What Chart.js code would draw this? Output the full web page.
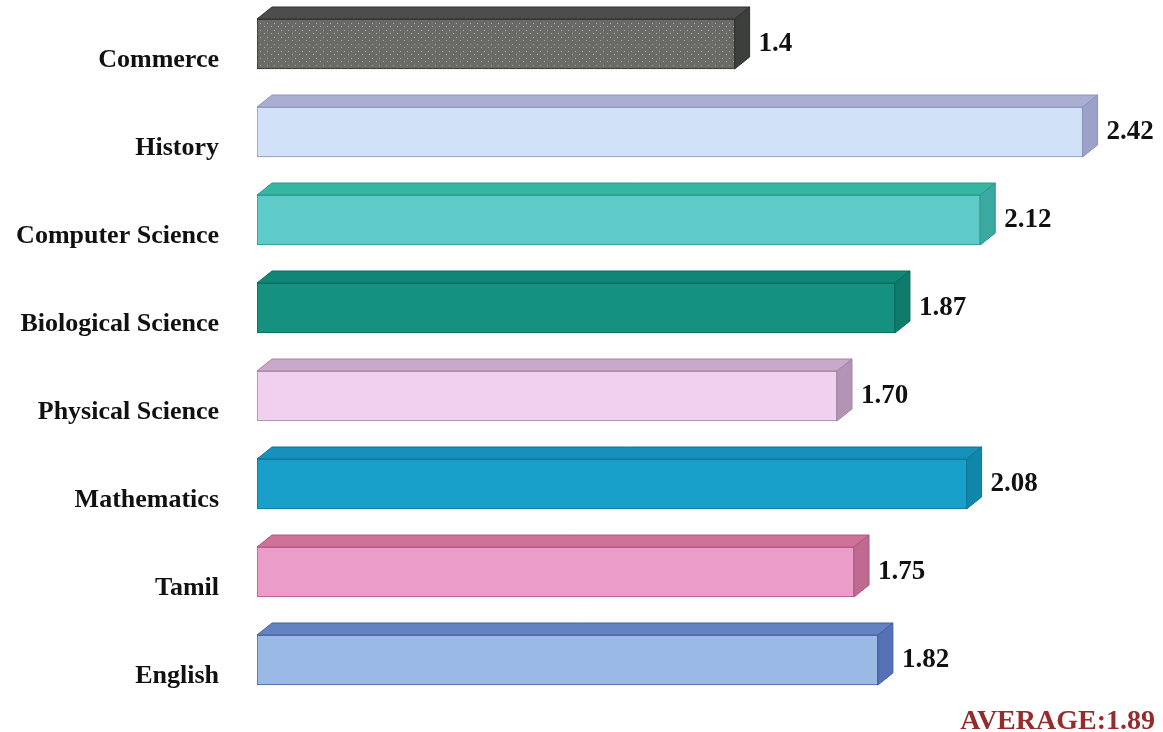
<!DOCTYPE html>
<html>
<head>
<meta charset="utf-8">
<script src="https://cdn.jsdelivr.net/npm/chart.js@4.4.1/dist/chart.umd.min.js"></script>
<style>
  html, body { margin: 0; padding: 0; background: #fff; }
  #box { width: 1163px; height: 732px; position: relative; }
</style>
</head>
<body>
<div id="box"><canvas id="grafico"></canvas></div>
<script>
// Dati del grafico
const subjects = ['Commerce', 'History', 'Computer Science', 'Biological Science', 'Physical Science', 'Mathematics', 'Tamil', 'English'];
const scores = [1.4, 2.42, 2.12, 1.87, 1.70, 2.08, 1.75, 1.82];
const valueLabels = ['1.4', '2.42', '2.12', '1.87', '1.70', '2.08', '1.75', '1.82'];
const averageText = 'AVERAGE:1.89';

// Colori: faccia frontale, faccia superiore, fianco
const frontColors = ['#6a6b67', '#d0e1f8', '#5fcbc8', '#14917f', '#f1cfee', '#18a0cb', '#ec9cc8', '#9bb9e5'];
const topColors = ['#4b4e4a', '#a9aed2', '#34b6a1', '#108676', '#c9a8c9', '#1591bb', '#cf7199', '#6382c2'];
const sideColors = ['#3c3f3c', '#9ba1c9', '#3aa9a1', '#0e7b6b', '#b494b4', '#1186ab', '#c06a92', '#5572b6'];
const edgeColors = ['#2f312f', '#8c92ba', '#2b958c', '#0a6a5c', '#a084a0', '#0e7597', '#a85a80', '#44609f'];

const DX = 15; // profondita' orizzontale
const DY = 12; // profondita' verticale

// Trama a puntini per la barra grigia
function dotPattern(base) {
    const c = document.createElement('canvas');
    c.width = 7; c.height = 7;
    const g = c.getContext('2d');
    g.fillStyle = base;
    g.fillRect(0, 0, 7, 7);
    g.fillStyle = '#a9aaa5';
    g.fillRect(1, 2, 1, 1);
    g.fillRect(5, 5, 1, 1);
    return g.createPattern(c, 'repeat');
}

const fills = frontColors.map((c, i) => i === 0 ? dotPattern(c) : c);

// Plugin per disegnare l'effetto 3D e le etichette dei valori
const bar3d = {
    id: 'bar3d',
    afterDatasetsDraw(chart) {
        const ctx = chart.ctx;
        const meta = chart.getDatasetMeta(0);
        meta.data.forEach((bar, i) => {
            const top = bar.y - bar.height / 2;
            const bottom = bar.y + bar.height / 2;
            const left = bar.base;
            const right = bar.x;
            ctx.save();
            ctx.lineWidth = 1;
            ctx.strokeStyle = edgeColors[i];
            // faccia superiore
            ctx.beginPath();
            ctx.moveTo(left, top);
            ctx.lineTo(left + DX, top - DY);
            ctx.lineTo(right + DX, top - DY);
            ctx.lineTo(right, top);
            ctx.closePath();
            ctx.fillStyle = topColors[i];
            ctx.fill();
            ctx.stroke();
            // fianco destro
            ctx.beginPath();
            ctx.moveTo(right, top);
            ctx.lineTo(right + DX, top - DY);
            ctx.lineTo(right + DX, bottom - DY);
            ctx.lineTo(right, bottom);
            ctx.closePath();
            ctx.fillStyle = sideColors[i];
            ctx.fill();
            ctx.stroke();
            // valore
            ctx.fillStyle = '#111';
            ctx.font = 'bold 27px "Liberation Serif", "Times New Roman", serif';
            ctx.textAlign = 'left';
            ctx.textBaseline = 'middle';
            ctx.fillText(valueLabels[i], right + DX + 9, bar.y);
            ctx.restore();
        });
        // media
        ctx.save();
        ctx.fillStyle = '#952b2b';
        ctx.font = 'bold 28px "Liberation Serif", "Times New Roman", serif';
        ctx.textAlign = 'right';
        ctx.textBaseline = 'alphabetic';
        ctx.fillText(averageText, chart.width - 8, chart.height - 3);
        ctx.restore();
    }
};

new Chart(document.getElementById('grafico').getContext('2d'), {
    type: 'bar',
    data: {
        labels: subjects,
        datasets: [{
            data: scores,
            backgroundColor: fills,
            borderColor: edgeColors,
            borderWidth: 1,
            borderSkipped: false,
            barThickness: 50
        }]
    },
    options: {
        indexAxis: 'y',
        responsive: true,
        maintainAspectRatio: false,
        animation: false,
        layout: { padding: { left: 0, top: 0, right: 19, bottom: 28 } },
        scales: {
            x: { display: false, min: 0, max: 2.6 },
            y: {
                grid: { display: false, tickLength: 38 },
                border: { display: false },
                afterFit(scale) { scale.width = 257; },
                ticks: {
                    color: '#111',
                    padding: 0,
                    labelOffset: 16,
                    font: { family: '"Liberation Serif", "Times New Roman", serif', size: 26, weight: 'bold', lineHeight: 0 }
                }
            }
        },
        plugins: {
            legend: { display: false },
            tooltip: { enabled: false }
        }
    },
    plugins: [bar3d]
});
</script>
</body>
</html>
